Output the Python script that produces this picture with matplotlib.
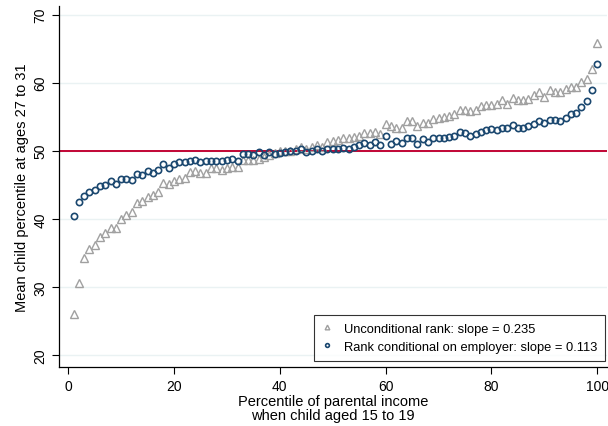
import numpy as np
import matplotlib
matplotlib.use("Agg")
import matplotlib.pyplot as plt

plt.rcParams['font.family'] = ['Liberation Sans', 'DejaVu Sans']

percentile = list(range(1, 101))

unconditional = [
    26.0, 30.5, 34.2, 35.5, 36.2, 37.3, 37.9, 38.7, 38.7, 40.0,
    40.6, 41.0, 42.3, 42.6, 43.2, 43.5, 44.0, 45.3, 45.1, 45.6,
    45.9, 46.0, 46.9, 47.0, 46.8, 46.8, 47.4, 47.4, 47.1, 47.4,
    47.6, 47.6, 48.6, 48.6, 48.7, 48.8, 49.1, 49.3, 49.6, 49.9,
    50.0, 50.0, 50.3, 50.5, 50.3, 50.5, 50.9, 50.6, 51.3, 51.5,
    51.6, 51.8, 51.9, 52.0, 52.1, 52.6, 52.6, 52.8, 52.5, 54.0,
    53.6, 53.4, 53.4, 54.3, 54.3, 53.6, 54.1, 54.1, 54.6, 54.8,
    55.0, 55.1, 55.4, 56.0, 56.0, 55.8, 56.0, 56.6, 56.7, 56.7,
    56.8, 57.4, 56.9, 57.7, 57.4, 57.4, 57.6, 58.2, 58.7, 57.9,
    58.9, 58.7, 58.7, 59.1, 59.4, 59.3, 60.1, 60.6, 62.0, 65.9,
]

conditional = [
    40.4, 42.4, 43.3, 43.9, 44.3, 44.8, 45.0, 45.5, 45.1, 45.8,
    45.9, 45.7, 46.6, 46.5, 47.0, 46.7, 47.2, 48.1, 47.5, 48.0,
    48.3, 48.3, 48.5, 48.6, 48.3, 48.5, 48.5, 48.5, 48.5, 48.6,
    48.8, 48.5, 49.5, 49.5, 49.4, 49.8, 49.3, 49.8, 49.5, 49.6,
    49.8, 50.0, 49.9, 50.2, 49.8, 50.0, 50.2, 49.9, 50.3, 50.3,
    50.3, 50.4, 50.3, 50.5, 50.8, 51.1, 50.9, 51.3, 50.9, 52.1,
    51.0, 51.4, 51.2, 51.8, 51.9, 51.0, 51.7, 51.3, 51.9, 51.9,
    51.9, 52.0, 52.2, 52.8, 52.6, 52.2, 52.5, 52.8, 53.1, 53.2,
    53.0, 53.3, 53.3, 53.8, 53.3, 53.3, 53.7, 54.0, 54.3, 54.1,
    54.5, 54.5, 54.4, 54.8, 55.4, 55.6, 56.4, 57.3, 58.9, 62.7,
]

labels = ["Unconditional rank: slope = 0.235",
          "Rank conditional on employer: slope = 0.113"]

xticks = [0, 20, 40, 60, 80, 100]
yticks = [20, 30, 40, 50, 60, 70]

fig = plt.figure(figsize=(6.08, 4.27), dpi=100)
ax = fig.add_axes([0.097, 0.138, 0.901, 0.846])

for y in yticks:
    ax.axhline(y, color='#eaf2f3', lw=1.0, zorder=0)
ax.axhline(50, color='#c10534', lw=1.4, zorder=1)

ax.plot(percentile, unconditional, linestyle='none', marker='^',
        markersize=5.6, markerfacecolor='none', markeredgecolor='#a0a0a0',
        markeredgewidth=1.0, label=labels[0], zorder=2)
ax.plot(percentile, conditional, linestyle='none', marker='o',
        markersize=4.5, markerfacecolor='none', markeredgecolor='#1a476f',
        markeredgewidth=1.2, label=labels[1], zorder=3)

ax.set_xlim(-1.75, 101.8)
ax.set_ylim(18.2, 71.3)
ax.set_xticks(xticks)
ax.set_yticks(yticks)
ax.tick_params(axis='both', labelsize=10, length=5, width=0.8, color='black')
for lab in ax.get_yticklabels():
    lab.set_rotation(90)
    lab.set_va('center')

for s in ['top', 'right']:
    ax.spines[s].set_visible(False)
for s in ['left', 'bottom']:
    ax.spines[s].set_linewidth(0.9)

ax.set_xlabel("Percentile of parental income\nwhen child aged 15 to 19",
              fontsize=10.5, linespacing=1.0, labelpad=1)
ax.set_ylabel("Mean child percentile at ages 27 to 31", fontsize=10.5, labelpad=3)

leg = ax.legend(loc='lower right', bbox_to_anchor=(0.997, 0.018), borderaxespad=0,
                fontsize=9.3, frameon=True, fancybox=False, edgecolor='black',
                handlelength=0.8, handletextpad=0.9, markerscale=0.6,
                borderpad=0.6, labelspacing=0.45)
leg.get_frame().set_linewidth(0.8)

fig.savefig("out.png", dpi=100)
